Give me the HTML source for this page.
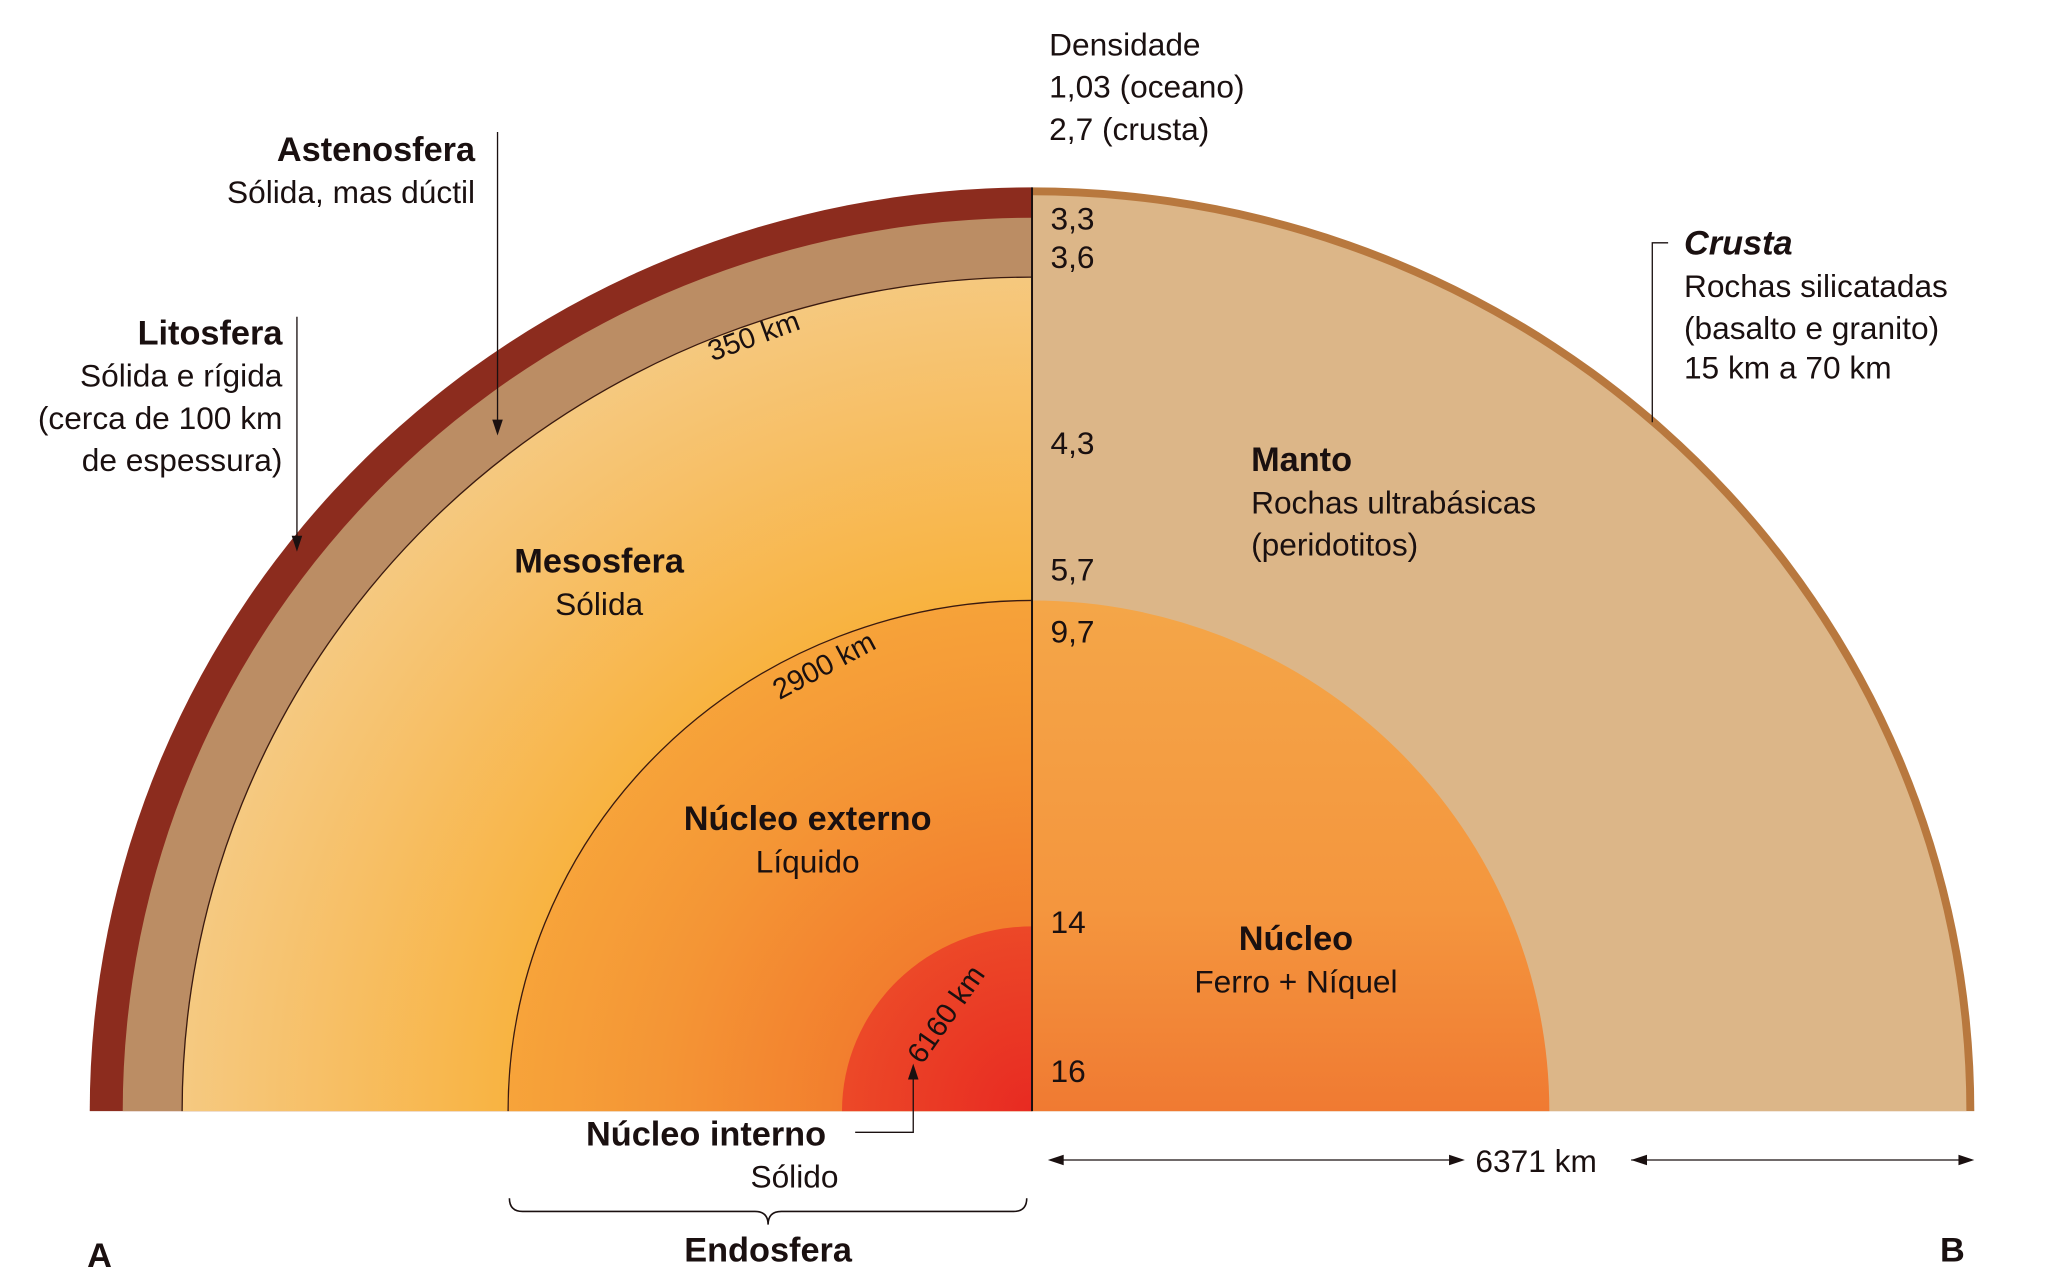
<!DOCTYPE html>
<html><head><meta charset="utf-8"><style>html,body{margin:0;padding:0;background:#fff;overflow:hidden;width:2068px;height:1288px}svg{display:block}</style></head>
<body>
<svg width="2068" height="1288" viewBox="0 0 1567 976" preserveAspectRatio="none" xmlns="http://www.w3.org/2000/svg" font-family="Liberation Sans, sans-serif" fill="#1a1010">
<defs>
<radialGradient id="meso" cx="782" cy="842" r="640" gradientUnits="userSpaceOnUse">
<stop offset="0.6" stop-color="#f8b23e"/><stop offset="0.85" stop-color="#f7c068"/><stop offset="1" stop-color="#f5c980"/></radialGradient>
<radialGradient id="oc" cx="782" cy="842" r="400" gradientUnits="userSpaceOnUse">
<stop offset="0.3" stop-color="#f27a2c"/><stop offset="0.7" stop-color="#f49535"/><stop offset="1" stop-color="#f7a43a"/></radialGradient>
<radialGradient id="ic" cx="782" cy="842" r="150" gradientUnits="userSpaceOnUse">
<stop offset="0" stop-color="#e82a22"/><stop offset="1" stop-color="#ec4a28"/></radialGradient>
<linearGradient id="rc" x1="0" y1="455" x2="0" y2="842" gradientUnits="userSpaceOnUse">
<stop offset="0" stop-color="#f4a648"/><stop offset="0.6" stop-color="#f4963e"/><stop offset="1" stop-color="#f07a32"/></linearGradient>
<clipPath id="L"><rect x="0" y="0" width="782" height="842"/></clipPath>
<clipPath id="R"><rect x="782" y="0" width="800" height="842"/></clipPath>
</defs>
<g clip-path="url(#L)">
<ellipse cx="782" cy="842" rx="714" ry="700" fill="#8c2c1e"/>
<ellipse cx="782" cy="842" rx="689" ry="677" fill="#bb8d64"/>
<ellipse cx="782" cy="842" rx="644" ry="632" fill="url(#meso)" stroke="#3a1a10" stroke-width="1"/>
<ellipse cx="782" cy="842" rx="397" ry="387" fill="url(#oc)" stroke="#3a1a10" stroke-width="1"/>
<ellipse cx="782" cy="842" rx="144" ry="140" fill="url(#ic)"/>
</g>
<g clip-path="url(#R)">
<ellipse cx="782" cy="842" rx="714" ry="700" fill="#b8783e"/>
<ellipse cx="782" cy="842" rx="708" ry="694" fill="#dcb688"/>
<ellipse cx="782" cy="842" rx="392" ry="387" fill="url(#rc)"/>
</g>
<line x1="782" y1="142" x2="782" y2="842" stroke="#1a1010" stroke-width="1.5"/>
<text x="532" y="260" font-size="22" transform="rotate(-20 575 245)">350 km</text>
<text x="575" y="512" font-size="22" transform="rotate(-28 620 490)">2900 km</text>
<text x="648" y="790" font-size="22" transform="rotate(-55 690 750)">6160 km</text>
<g font-size="24">
<text x="795" y="42">Densidade</text>
<text x="795" y="74">1,03 (oceano)</text>
<text x="795" y="106">2,7 (crusta)</text>
<text x="796" y="174">3,3</text>
<text x="796" y="203">3,6</text>
<text x="796" y="344">4,3</text>
<text x="796" y="440">5,7</text>
<text x="796" y="487">9,7</text>
<text x="796" y="707">14</text>
<text x="796" y="820">16</text>
</g>
<g text-anchor="end" font-size="24">
<text x="360" y="122" font-weight="bold" font-size="26">Astenosfera</text>
<text x="360" y="154">Sólida, mas dúctil</text>
<text x="214" y="261" font-weight="bold" font-size="26">Litosfera</text>
<text x="214" y="293">Sólida e rígida</text>
<text x="214" y="325">(cerca de 100 km</text>
<text x="214" y="357">de espessura)</text>
</g>
<line x1="377" y1="100" x2="377" y2="322" stroke="#1a1010" stroke-width="1"/>
<path d="M373 318 L377 330 L381 318Z"/>
<line x1="225" y1="240" x2="225" y2="410" stroke="#1a1010" stroke-width="1"/>
<path d="M221 406 L225 418 L229 406Z"/>
<g text-anchor="middle" font-size="24">
<text x="454" y="434" font-weight="bold" font-size="26">Mesosfera</text>
<text x="454" y="466">Sólida</text>
<text x="612" y="629" font-weight="bold" font-size="26">Núcleo externo</text>
<text x="612" y="661">Líquido</text>
<text x="982" y="720" font-weight="bold" font-size="26">Núcleo</text>
<text x="982" y="752">Ferro + Níquel</text>
<text x="535" y="868" font-weight="bold" font-size="26">Núcleo interno</text>
<text x="602" y="900">Sólido</text>
<text x="582" y="956" font-weight="bold" font-size="26">Endosfera</text>
</g>
<path d="M648 858 L692 858 L692 812" fill="none" stroke="#1a1010" stroke-width="1"/>
<path d="M688 818 L692 806 L696 818Z"/>
<path d="M386 908 Q386 918 396 918 L572 918 Q582 918 582 928 Q582 918 592 918 L768 918 Q778 918 778 908" fill="none" stroke="#1a1010" stroke-width="1.2"/>
<g font-size="24">
<text x="948" y="357" font-weight="bold" font-size="26">Manto</text>
<text x="948" y="389">Rochas ultrabásicas</text>
<text x="948" y="421">(peridotitos)</text>
<text x="1276" y="193" font-weight="bold" font-style="italic" font-size="26">Crusta</text>
<text x="1276" y="225">Rochas silicatadas</text>
<text x="1276" y="257">(basalto e granito)</text>
<text x="1276" y="287">15 km a 70 km</text>
<text x="1118" y="888">6371 km</text>
</g>
<path d="M1264 184 L1252 184 L1252 320" fill="none" stroke="#1a1010" stroke-width="1"/>
<line x1="796" y1="879" x2="1108" y2="879" stroke="#1a1010" stroke-width="1"/>
<path d="M806 875 L794 879 L806 883Z M1098 875 L1110 879 L1098 883Z"/>
<line x1="1236" y1="879" x2="1494" y2="879" stroke="#1a1010" stroke-width="1"/>
<path d="M1248 875 L1236 879 L1248 883Z M1484 875 L1496 879 L1484 883Z"/>
<text x="66" y="960" font-weight="bold" font-size="26">A</text>
<text x="1470" y="956" font-weight="bold" font-size="26">B</text>
</svg>
</body></html>
